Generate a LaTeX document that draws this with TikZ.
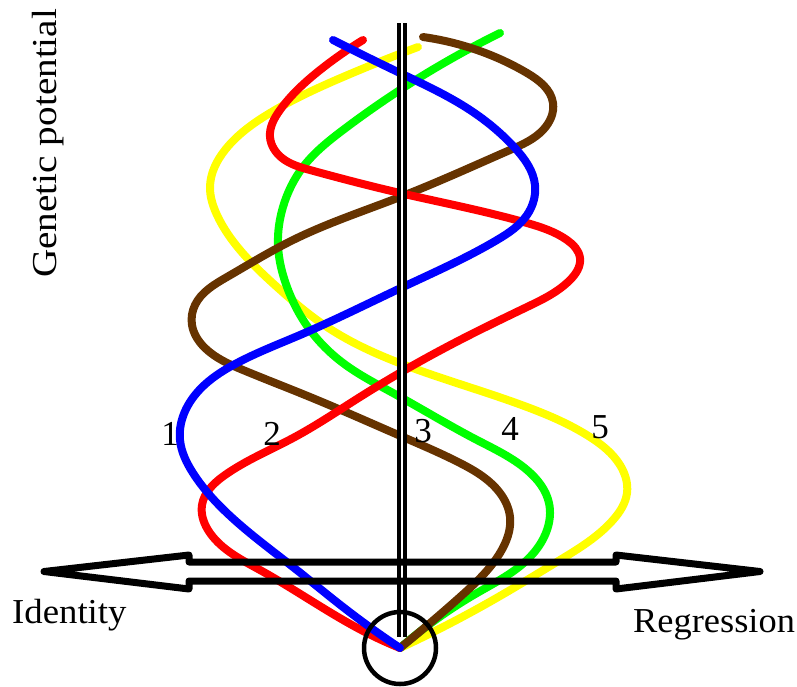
\documentclass[tikz,border=0pt]{standalone}
\usepackage{fontspec}
\usepackage{graphicx}
\usetikzlibrary{hobby}
\setmainfont{Liberation Serif}
\definecolor{cred}{RGB}{255,0,0}
\definecolor{cyellow}{RGB}{255,255,0}
\definecolor{cblue}{RGB}{0,0,255}
\definecolor{cgreen}{RGB}{0,255,0}
\definecolor{cbrown}{RGB}{102,51,0}
\begin{document}
\begin{tikzpicture}[x=1pt,y=-1pt,
  helix/.style={line width=8pt, line cap=round, line join=round, use Hobby shortcut},
  lbl/.style={inner sep=0pt, font=\fontsize{35}{40}\selectfont},
  axisline/.style={line width=3.4pt, double=white, double distance=2.8pt},
  bigarrow/.style={line width=7pt, line join=round},
]
\useasboundingbox (0,0) rectangle (797,686);
\coordinate (o) at (400,648);

% helices
\draw[helix, cyellow] (418,47) .. (343,77) .. (270,113) .. (225,150) .. (210,187) .. (217,215) .. (240,250) .. (277,287) .. (327,327) .. (410,367) .. (527,407) .. (590,437) .. (620,465) .. (627,493) .. (613,520) .. (560,560) .. (493,600) .. (o);
\draw[helix, cgreen] (500,33) .. (427,73) .. (343,130) .. (303,167) .. (283,207) .. (278,245) .. (287,287) .. (310,330) .. (343,363) .. (393,393) .. (477,440) .. (527,470) .. (549,503) .. (547,530) .. (527,560) .. (477,593) .. (o);
\draw[helix, cbrown] (423,37) .. (477,50) .. (527,73) .. (553,103) .. (543,130) .. (510,150) .. (400,197) .. (293,240) .. (227,277) .. (195,305) .. (192,325) .. (205,348) .. (243,370) .. (310,397) .. (403,437) .. (460,463) .. (500,493) .. (510,517) .. (500,553) .. (460,597) .. (o);
\draw[helix, cred] (363,40) .. (320,70) .. (280,110) .. (270,137) .. (282,158) .. (310,170) .. (400,193) .. (527,223) .. (567,240) .. (580,258) .. (570,280) .. (527,307) .. (460,340) .. (360,397) .. (293,438) .. (225,475) .. (202,505) .. (210,533) .. (260,570) .. (367,633) .. (o);
\draw[helix, cblue] (333,40) .. (400,73) .. (470,110) .. (515,148) .. (535,185) .. (527,215) .. (497,240) .. (403,287) .. (300,335) .. (237,363) .. (195,395) .. (180,440) .. (193,473) .. (227,513) .. (293,567) .. (343,607) .. (o);

% vertical axis
\coordinate (vtop) at (402,23);
\coordinate (vbot) at (402,637);
\draw[axisline] (vtop) -- (vbot);

% horizontal double arrow
\draw[bigarrow] (44,571.5) -- (189,555) -- (189,562) -- (616,562) -- (616,555) -- (760,571.5)
  -- (616,589) -- (616,581) -- (189,581) -- (189,589) -- cycle;

% circle
\node[circle, draw, line width=4.5pt, minimum size=72pt, inner sep=0pt] (ring) at (o) {};

% labels
\node[lbl, anchor=base west] (ident) at (12,623) {\scalebox{1.05}[1]{Identity}};
\node[lbl, anchor=base west] (regr) at (633,632) {\scalebox{1.04}[1]{Regression}};
\node[lbl, anchor=base west, rotate=90] (gen) at (56,278) {\scalebox{1.12}[1]{Genetic potential}};
\node[lbl, anchor=base] (n1) at (170,445) {1};
\node[lbl, anchor=base] (n2) at (272,445) {2};
\node[lbl, anchor=base] (n3) at (423,442) {3};
\node[lbl, anchor=base] (n4) at (510,440) {4};
\node[lbl, anchor=base] (n5) at (600,438) {5};
\end{tikzpicture}
\end{document}
